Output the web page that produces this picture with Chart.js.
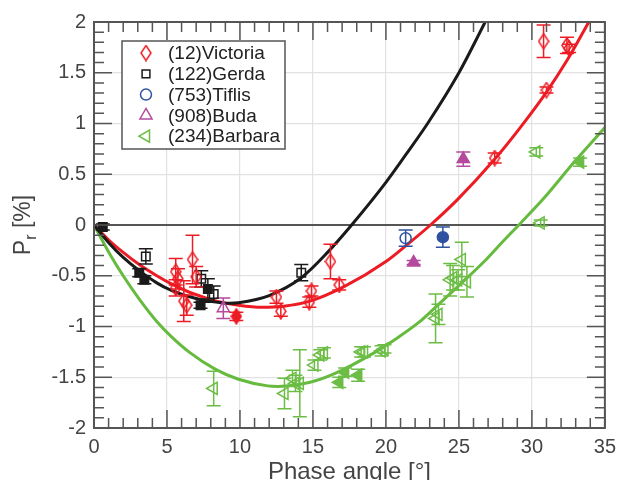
<!DOCTYPE html>
<html>
<head>
<meta charset="utf-8">
<script src="https://cdn.jsdelivr.net/npm/chart.js@4.4.1/dist/chart.umd.min.js"></script>
<style>
  html, body { margin: 0; padding: 0; background: #fff; }
</style>
</head>
<body>
<canvas id="pol-chart" width="623" height="480"></canvas>
<script>
// tick values
const xTickValues = [0, 5, 10, 15, 20, 25, 30, 35];
const yTickValues = [-2, -1.5, -1, -0.5, 0, 0.5, 1, 1.5, 2];

// (12) Victoria
const victoriaX = [5.6, 5.75, 5.6, 6.75, 7.0, 6.15, 6.35, 9.75, 12.5, 12.8, 14.75, 14.9, 16.2, 16.8, 27.45, 31.0, 30.8, 32.4, 32.55];
const victoriaY = [-0.46, -0.53, -0.62, -0.34, -0.51, -0.75, -0.79, -0.9, -0.71, -0.85, -0.76, -0.65, -0.36, -0.59, 0.66, 1.33, 1.81, 1.77, 1.74];
const victoriaErr = [0.13, 0.1, 0.08, 0.24, 0.1, 0.2, 0.1, 0.04, 0.06, 0.05, 0.05, 0.05, 0.17, 0.05, 0.05, 0.03, 0.16, 0.08, 0.04];
const victoriaFill = [0, 0, 0, 0, 0, 0, 0, 1, 0, 0, 0, 0, 0, 0, 0, 0, 0, 0, 0];

// (122) Gerda
const gerdaX = [0.6, 3.1, 3.45, 3.55, 7.3, 7.35, 7.8, 8.2, 14.2];
const gerdaY = [-0.02, -0.47, -0.54, -0.31, -0.79, -0.53, -0.63, -0.68, -0.47];
const gerdaErr = [0.03, 0.04, 0.04, 0.075, 0.03, 0.08, 0.1, 0.08, 0.08];
const gerdaFill = [1, 1, 1, 0, 1, 0, 1, 0, 0];

// (753) Tiflis
const tiflisX = [21.35, 23.9];
const tiflisY = [-0.13, -0.12];
const tiflisErr = [0.08, 0.1];
const tiflisFill = [0, 1];

// (908) Buda
const budaX = [8.86, 21.9, 25.3];
const budaY = [-0.82, -0.37, 0.65];
const budaErr = [0.1, 0.02, 0.07];
const budaFill = [0, 1, 1];

// (234) Barbara
const barbaraX = [8.2, 13.05, 13.6, 13.8, 14.1, 15.1, 15.5, 15.75, 16.8, 17.2, 18.1, 18.3, 18.5, 19.7, 19.9, 23.4, 23.6, 24.4, 24.6, 24.95, 25.2, 25.55, 30.3, 30.6, 33.3];
const barbaraY = [-1.61, -1.66, -1.51, -1.56, -1.56, -1.38, -1.28, -1.26, -1.55, -1.45, -1.48, -1.25, -1.25, -1.24, -1.22, -0.92, -0.88, -0.54, -0.52, -0.54, -0.34, -0.56, 0.72, 0.02, 0.62];
const barbaraErr = [0.17, 0.15, 0.08, 0.08, 0.33, 0.05, 0.05, 0.05, 0.05, 0.04, 0.06, 0.05, 0.05, 0.05, 0.04, 0.24, 0.1, 0.16, 0.12, 0.1, 0.17, 0.15, 0.04, 0.03, 0.04];
const barbaraFill = [0, 0, 0, 0, 0, 0, 0, 0, 1, 1, 1, 0, 0, 0, 0, 0, 0, 0, 0, 0, 0, 0, 0, 0, 1];

// fitted phase curves
const gerdaFitX = [0, 1.1, 2, 3.1, 4.3, 5.3, 6.5, 7.6, 8.7, 9.3, 9.9, 12, 14.2, 16, 17.65, 20, 21.4, 22.9, 25, 26.8];
const gerdaFitY = [0, -0.19, -0.32, -0.45, -0.57, -0.645, -0.705, -0.745, -0.765, -0.77, -0.765, -0.695, -0.52, -0.27, 0, 0.42, 0.7, 1.01, 1.5, 2.0];
const victoriaFitX = [0, 1.1, 2, 3.1, 4.3, 5.3, 6.5, 7.6, 8.7, 9.9, 11.5, 13, 14.8, 17.1, 20, 21.4, 23.05, 24.9, 27.4, 29.2, 31, 32.4, 33.9];
const victoriaFitY = [0, -0.16, -0.27, -0.39, -0.5, -0.58, -0.66, -0.715, -0.76, -0.79, -0.81, -0.8, -0.75, -0.61, -0.36, -0.2, 0, 0.25, 0.64, 0.96, 1.31, 1.62, 2.0];
const barbaraFitX = [0, 1.1, 2, 3.1, 4.3, 5.3, 6.5, 8.3, 9.9, 11.9, 12.6, 14.8, 16.4, 19.3, 20.7, 22.25, 23.4, 24.9, 26.8, 27.9, 29.3, 30.8, 32.9, 35];
const barbaraFitY = [0, -0.29, -0.5, -0.73, -0.95, -1.1, -1.25, -1.42, -1.52, -1.585, -1.59, -1.55, -1.47, -1.25, -1.12, -0.96, -0.81, -0.61, -0.35, -0.18, 0.03, 0.26, 0.62, 0.96];

const RED = '#ed1c24';
const BLACK = '#1a1a1a';
const BLUE = '#2f52a0';
const MAGENTA = '#b44a9d';
const GREEN = '#6cbd45';
const NONE = 'rgba(0,0,0,0)';

const pts = (xs, ys) => xs.map((x, i) => ({ x: x, y: ys[i] }));

// narrow diamond marker
function diamond(color, filled) {
  const c = document.createElement('canvas');
  c.width = 12; c.height = 17;
  const g = c.getContext('2d');
  g.beginPath();
  g.moveTo(6, 1); g.lineTo(11, 8.5); g.lineTo(6, 16); g.lineTo(1, 8.5); g.closePath();
  if (filled) { g.fillStyle = color; g.fill(); }
  g.strokeStyle = color; g.lineWidth = 1.5; g.stroke();
  return c;
}
const diamondOpen = diamond(RED, false);
const diamondFull = diamond(RED, true);

Chart.defaults.font.family = "'Liberation Sans', Arial, sans-serif";

function markerSet(label, xs, ys, errs, fill, color, style, radius, rotation) {
  return {
    type: 'scatter',
    label: label,
    data: pts(xs, ys),
    errors: errs,
    legendStyle: style,
    borderColor: color,
    backgroundColor: fill.map(f => f ? color : NONE),
    pointStyle: style,
    pointRadius: radius,
    pointRotation: rotation || 0,
    pointBorderWidth: 1.5,
    order: 1
  };
}

function fitLine(xs, ys, color) {
  return {
    type: 'line',
    data: pts(xs, ys),
    borderColor: color,
    borderWidth: 3,
    pointRadius: 0,
    cubicInterpolationMode: 'monotone',
    fill: false,
    order: 5
  };
}

// error bars drawn just before each marker dataset
const errorBars = {
  id: 'errorBars',
  beforeDatasetDraw(chart, args) {
    const ds = chart.data.datasets[args.index];
    if (!ds.errors) return;
    const { ctx, scales: { x, y } } = chart;
    ctx.save();
    ctx.strokeStyle = ds.borderColor;
    ctx.lineWidth = 1.5;
    ds.data.forEach((p, j) => {
      const e = ds.errors[j];
      const px = x.getPixelForValue(p.x);
      const top = y.getPixelForValue(p.y + e);
      const bot = y.getPixelForValue(p.y - e);
      ctx.beginPath();
      ctx.moveTo(px, top); ctx.lineTo(px, bot);
      ctx.moveTo(px - 7, top); ctx.lineTo(px + 7, top);
      ctx.moveTo(px - 7, bot); ctx.lineTo(px + 7, bot);
      ctx.stroke();
    });
    ctx.restore();
  }
};

// frame with inward ticks, axis titles and legend box
const frame = {
  id: 'frame',
  afterDraw(chart) {
    const { ctx, chartArea: a, scales: { x, y } } = chart;
    ctx.save();
    ctx.strokeStyle = '#555';
    ctx.lineWidth = 2;
    ctx.strokeRect(a.left, a.top, a.right - a.left, a.bottom - a.top);

    ctx.lineWidth = 1.5;
    ctx.beginPath();
    for (let v = 0; v <= 35; v += 1) {
      const px = x.getPixelForValue(v);
      const len = v % 5 === 0 ? 18 : 10;
      ctx.moveTo(px, a.bottom); ctx.lineTo(px, a.bottom - len);
      ctx.moveTo(px, a.top); ctx.lineTo(px, a.top + len);
    }
    for (let k = -20; k <= 20; k += 1) {
      const py = y.getPixelForValue(k / 10);
      const len = k % 5 === 0 ? 18 : 10;
      ctx.moveTo(a.left, py); ctx.lineTo(a.left + len, py);
      ctx.moveTo(a.right, py); ctx.lineTo(a.right - len, py);
    }
    ctx.stroke();

    // axis titles
    ctx.fillStyle = '#444';
    ctx.font = "24px 'Liberation Sans', Arial, sans-serif";
    ctx.textAlign = 'center';
    ctx.textBaseline = 'alphabetic';
    ctx.fillText('Phase angle [°]', (a.left + a.right) / 2, 479);

    ctx.translate(30, (a.top + a.bottom) / 2);
    ctx.rotate(-Math.PI / 2);
    const big = "23px 'Liberation Sans', Arial, sans-serif";
    const small = "16px 'Liberation Sans', Arial, sans-serif";
    ctx.textAlign = 'left';
    ctx.font = big; const wP = ctx.measureText('P').width; const wB = ctx.measureText(' [%]').width;
    ctx.font = small; const wr = ctx.measureText('r').width;
    let sx = -(wP + wr + wB) / 2;
    ctx.font = big; ctx.fillText('P', sx, 0); sx += wP;
    ctx.font = small; ctx.fillText('r', sx, 6); sx += wr;
    ctx.font = big; ctx.fillText(' [%]', sx, 0);
    ctx.restore();

    // legend
    ctx.save();
    ctx.fillStyle = '#fff';
    ctx.fillRect(122, 41, 163, 108);
    ctx.strokeStyle = '#555';
    ctx.lineWidth = 1.5;
    ctx.strokeRect(122, 41, 163, 108);
    const rows = chart.data.datasets.filter(d => d.errors);
    rows.forEach((d, i) => {
      const yy = 53 + i * 20.8;
      ctx.fillStyle = NONE;
      ctx.strokeStyle = d.borderColor;
      ctx.lineWidth = 1.5;
      Chart.helpers.drawPoint(ctx, {
        pointStyle: d.legendStyle === 'diamond' ? diamondOpen : d.legendStyle,
        radius: d.legendStyle === 'rect' ? 5.5 : d.pointRadius,
        rotation: d.pointRotation,
        borderWidth: 1.5
      }, 146, yy);
      ctx.fillStyle = '#222';
      ctx.font = "19px 'Liberation Sans', Arial, sans-serif";
      ctx.textAlign = 'left';
      ctx.textBaseline = 'middle';
      ctx.fillText(d.label, 168, yy + 1);
    });
    ctx.restore();
  }
};

const victoriaSet = markerSet('(12)Victoria', victoriaX, victoriaY, victoriaErr, victoriaFill, RED, 'diamond', 7);
victoriaSet.pointStyle = victoriaFill.map(f => f ? diamondFull : diamondOpen);

const datasets = [
  victoriaSet,
  markerSet('(122)Gerda', gerdaX, gerdaY, gerdaErr, gerdaFill, BLACK, 'rect', 6),
  markerSet('(753)Tiflis', tiflisX, tiflisY, tiflisErr, tiflisFill, BLUE, 'circle', 5.5),
  markerSet('(908)Buda', budaX, budaY, budaErr, budaFill, MAGENTA, 'triangle', 7),
  markerSet('(234)Barbara', barbaraX, barbaraY, barbaraErr, barbaraFill, GREEN, 'triangle', 7, -90),
  fitLine(gerdaFitX, gerdaFitY, BLACK),
  fitLine(victoriaFitX, victoriaFitY, RED),
  fitLine(barbaraFitX, barbaraFitY, '#66bb3f'),
  {
    type: 'line',
    data: [{ x: 0, y: 0 }, { x: 35, y: 0 }],
    borderColor: '#555',
    borderWidth: 2,
    pointRadius: 0,
    order: 9
  }
];

new Chart(document.getElementById('pol-chart').getContext('2d'), {
  type: 'scatter',
  data: { datasets: datasets },
  options: {
    responsive: false,
    animation: false,
    layout: { padding: { left: 0, right: 11, top: 22, bottom: 0 } },
    plugins: {
      legend: { display: false },
      tooltip: { enabled: false }
    },
    scales: {
      x: {
        type: 'linear',
        min: 0,
        max: 35,
        afterBuildTicks: s => { s.ticks = xTickValues.map(v => ({ value: v })); },
        afterFit: s => { s.height = 52; },
        grid: { color: '#e2e2e2', lineWidth: 1.2, drawTicks: false },
        border: { display: false },
        ticks: { color: '#444', padding: 7, font: { size: 20 }, maxRotation: 0 }
      },
      y: {
        type: 'linear',
        min: -2,
        max: 2,
        afterBuildTicks: s => { s.ticks = yTickValues.map(v => ({ value: v })); },
        afterFit: s => { s.width = 94; },
        grid: { color: '#e2e2e2', lineWidth: 1.2, drawTicks: false },
        border: { display: false },
        ticks: { color: '#444', padding: 8, font: { size: 20 }, callback: v => String(v) }
      }
    }
  },
  plugins: [errorBars, frame]
});
</script>
</body>
</html>
